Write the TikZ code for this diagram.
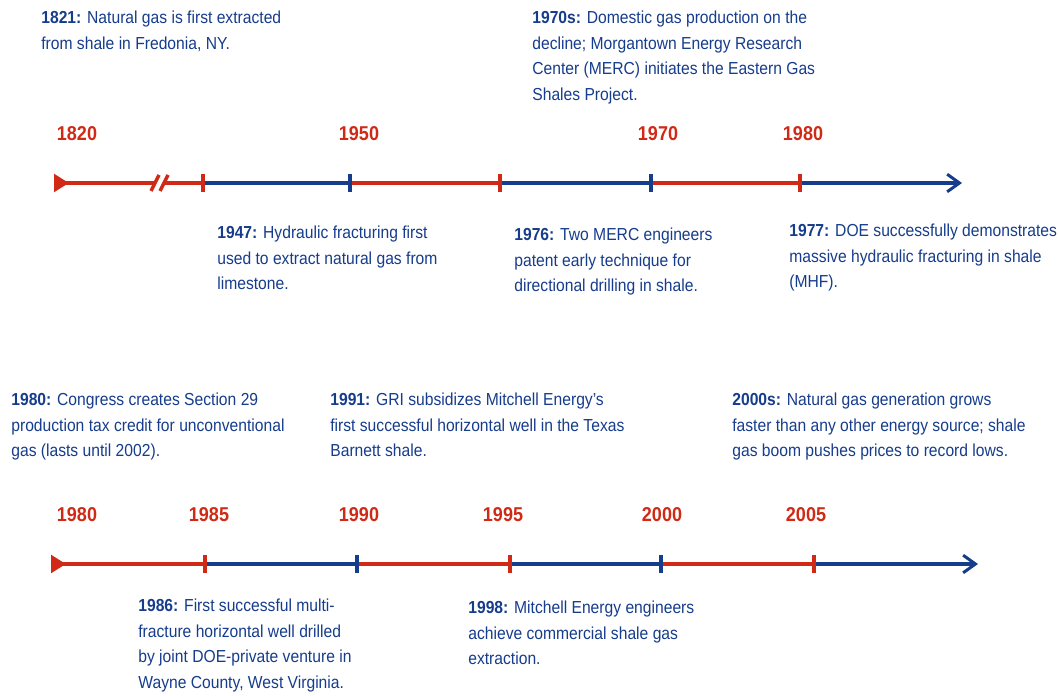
\documentclass[tikz,border=0pt]{standalone}
\usepackage{fontspec}
\setmainfont{Liberation Sans}[FakeStretch=0.9]
\usetikzlibrary{arrows.meta}
\definecolor{tlred}{RGB}{208,42,22}
\definecolor{tlblue}{RGB}{22,60,140}

\begin{document}
\begin{tikzpicture}
                [
                x=0.02cm, y=-0.02cm,
                event/.style={anchor=north west, inner sep=0pt, align=left, text=tlblue,
                  font=\fontsize{9.9}{14.5}\selectfont},
                yearlabel/.style={inner sep=0pt, text=tlred, font=\bfseries\fontsize{11.4}{14}\selectfont},
                redline/.style={draw=tlred, line width=2pt},
                blueline/.style={draw=tlblue, line width=2pt},
                redtick/.style={draw=tlred, line width=2.6pt},
                bluetick/.style={draw=tlblue, line width=2.6pt},
                starttip/.style={{Triangle[reversed, length=8.5pt, width=10pt]}-},
                endtip/.style={-{Straight Barb[length=7pt, width=10pt, line width=1.7pt]}}
                ]
                \useasboundingbox (0,0) rectangle (1058,696);
                % Timeline 1: points on the line
                \coordinate (s1) at (54,183);
                \coordinate (k1) at (155,183);
                \coordinate (k2) at (164,183);
                \coordinate (t11) at (203,183);
                \coordinate (t12) at (350,183);
                \coordinate (t13) at (500,183);
                \coordinate (t14) at (651,183);
                \coordinate (t15) at (800,183);
                \coordinate (e1) at (962,183);
                % Timeline 1: segments
                \draw[redline, starttip] (s1) -- (k1);
                \draw[redline] (k2) -- (t11);
                \draw[redline] ([shift={(-4,8)}]k1) -- ([shift={(4,-8)}]k1);
                \draw[redline] ([shift={(-4,8)}]k2) -- ([shift={(4,-8)}]k2);
                \draw[blueline] (t11) -- (t12);
                \draw[redline] (t12) -- (t13);
                \draw[blueline] (t13) -- (t14);
                \draw[redline] (t14) -- (t15);
                \draw[blueline, endtip] (t15) -- (e1);
                % Timeline 1: ticks
                \draw[redtick] ([yshift=5pt]t11) -- ([yshift=-5pt]t11);
                \draw[bluetick] ([yshift=5pt]t12) -- ([yshift=-5pt]t12);
                \draw[redtick] ([yshift=5pt]t13) -- ([yshift=-5pt]t13);
                \draw[bluetick] ([yshift=5pt]t14) -- ([yshift=-5pt]t14);
                \draw[redtick] ([yshift=5pt]t15) -- ([yshift=-5pt]t15);
                % Timeline 1: years
                \node[yearlabel] (y1820) at (77,134) {1820};
                \node[yearlabel] (y1950) at (359,134) {1950};
                \node[yearlabel] (y1970) at (658,134) {1970};
                \node[yearlabel] (y1980a) at (803,134) {1980};
                % Timeline 1: events
                \node[event] (e1821) at (41,11) {\textbf{1821:} Natural gas is first extracted\\from shale in Fredonia, NY.};
                \node[event] (e1970s) at (532,11) {\textbf{1970s:} Domestic gas production on the\\decline; Morgantown Energy Research\\Center (MERC) initiates the Eastern Gas\\Shales Project.};
                \node[event] (e1947) at (217,226) {\textbf{1947:} Hydraulic fracturing first\\used to extract natural gas from\\limestone.};
                \node[event] (e1976) at (514,228) {\textbf{1976:} Two MERC engineers\\patent early technique for\\directional drilling in shale.};
                \node[event] (e1977) at (789,224) {\textbf{1977:} DOE successfully demonstrates\\massive hydraulic fracturing in shale\\(MHF).};
                % Timeline 2: points on the line
                \coordinate (s2) at (51,564);
                \coordinate (t21) at (205,564);
                \coordinate (t22) at (357,564);
                \coordinate (t23) at (510,564);
                \coordinate (t24) at (661,564);
                \coordinate (t25) at (814,564);
                \coordinate (e2) at (978,564);
                % Timeline 2: segments
                \draw[redline, starttip] (s2) -- (t21);
                \draw[blueline] (t21) -- (t22);
                \draw[redline] (t22) -- (t23);
                \draw[blueline] (t23) -- (t24);
                \draw[redline] (t24) -- (t25);
                \draw[blueline, endtip] (t25) -- (e2);
                % Timeline 2: ticks
                \draw[redtick] ([yshift=5pt]t21) -- ([yshift=-5pt]t21);
                \draw[bluetick] ([yshift=5pt]t22) -- ([yshift=-5pt]t22);
                \draw[redtick] ([yshift=5pt]t23) -- ([yshift=-5pt]t23);
                \draw[bluetick] ([yshift=5pt]t24) -- ([yshift=-5pt]t24);
                \draw[redtick] ([yshift=5pt]t25) -- ([yshift=-5pt]t25);
                % Timeline 2: years
                \node[yearlabel] (y1980b) at (77,515) {1980};
                \node[yearlabel] (y1985) at (209,515) {1985};
                \node[yearlabel] (y1990) at (359,515) {1990};
                \node[yearlabel] (y1995) at (503,515) {1995};
                \node[yearlabel] (y2000) at (662,515) {2000};
                \node[yearlabel] (y2005) at (806,515) {2005};
                % Timeline 2: events
                \node[event] (e1980) at (11,393) {\textbf{1980:} Congress creates Section 29\\production tax credit for unconventional\\gas (lasts until 2002).};
                \node[event] (e1991) at (330,393) {\textbf{1991:} GRI subsidizes Mitchell Energy's\\first successful horizontal well in the Texas\\Barnett shale.};
                \node[event] (e2000s) at (732,393) {\textbf{2000s:} Natural gas generation grows\\faster than any other energy source; shale\\gas boom pushes prices to record lows.};
                \node[event] (e1986) at (138,599) {\textbf{1986:} First successful multi-\\fracture horizontal well drilled\\by joint DOE-private venture in\\Wayne County, West Virginia.};
                \node[event] (e1998) at (468,601) {\textbf{1998:} Mitchell Energy engineers\\achieve commercial shale gas\\extraction.};
            \end{tikzpicture}
\end{document}
